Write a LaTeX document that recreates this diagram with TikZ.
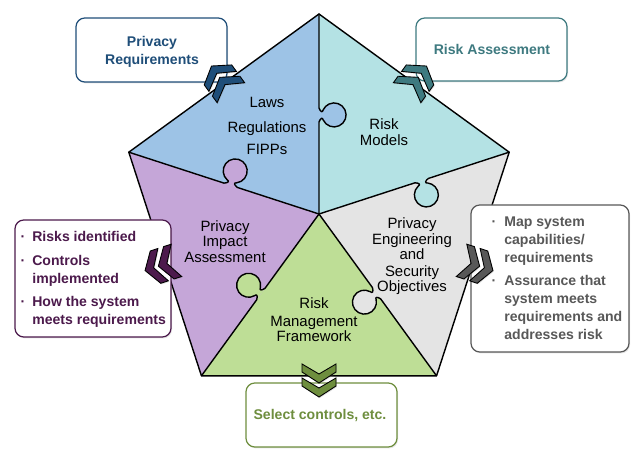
\documentclass[tikz,border=0pt]{standalone}
\usepackage{fontspec}
\setmainfont{Liberation Sans}
\usetikzlibrary{shadows}
\definecolor{pblue}{RGB}{157,195,230}
\definecolor{pteal}{RGB}{180,226,228}
\definecolor{pgrey}{RGB}{228,228,228}
\definecolor{pgreen}{RGB}{190,222,150}
\definecolor{ppurple}{RGB}{197,166,216}
\definecolor{cblue}{RGB}{31,78,121}
\definecolor{cteal}{RGB}{62,122,128}
\definecolor{cgrey}{RGB}{88,88,88}
\definecolor{cpurple}{RGB}{76,26,76}
\definecolor{cgreen}{RGB}{110,142,62}
\tikzset{
	piece/.style={font=\fontsize{8.5}{10}\selectfont,anchor=base,inner sep=0pt},
	boxtext/.style={font=\bfseries\fontsize{8}{10}\selectfont,inner sep=0pt,text=#1},
	infobox/.style={draw=#1,line width=0.7pt,fill=white,rounded corners=5pt,
		drop shadow={opacity=0.2,shadow xshift=0.6pt,shadow yshift=-0.8pt}},
	chev/.style={fill=#1,draw=black,line width=0.5pt,line join=miter,
		drop shadow={opacity=0.25,shadow xshift=0.5pt,shadow yshift=-0.6pt}},
	knob/.style={insert path={.. controls ({#1-3},-1.5) and ({#1-2},-3.5) .. ({#1-5},-4.2)
		arc[start angle=115,end angle=425,radius=12]
		.. controls ({#1+2},-3.5) and ({#1+3},-1.5) .. ({#1+7},0)}}
}
\begin{document}
\begin{tikzpicture}[line join = round, line cap = round,scale=0.02]
	\useasboundingbox (-319,-236) rectangle (318,214);
	\coordinate (O) at (0,0);
	%pieces
	\foreach \a/\col in {90/pblue,18/pteal,306/pgrey,234/pgreen,162/ppurple}
	\fill[\col] (O)--(\a:200)--({\a+72}:200)--cycle;
	%knobs and cuts
	\foreach \a/\d/\col in {90/99/pblue,162/93/ppurple,18/108/pteal,306/98/pgrey,234/99/pgreen}
	{
		\begin{scope}[rotate=\a]
			\fill[\col] ({\d-7},0) [knob=\d] -- cycle;
			\draw[line width=0.8pt] (0,0)--({\d-7},0) [knob=\d] --(200,0);
		\end{scope}
	}
	\draw[line width=0.8pt] (90:200)--(162:200)--(234:200)--(306:200)--(18:200)--cycle;
	%texts in the pieces
	\foreach \x/\y/\t [count=\i] in {-52/106/Laws,-52/81/Regulations,-52/59/FIPPs,
		65/84/Risk,65/68/Models,
		-94/-18/Privacy,-94/-33/Impact,-94/-49/Assessment,
		93/-15/Privacy,93/-31/Engineering,93/-46/and,93/-63/Security,93/-78/Objectives,
		-5/-95/Risk,-5/-113/Management,-5/-128/Framework}
	\node[piece] (p\i) at (\x,\y) {\t};
	%boxes
	\draw[infobox=cblue] (-243,196) rectangle (-92,132);
	\node[boxtext=cblue,anchor=base] (req1) at (-167,167) {Privacy};
	\node[boxtext=cblue,anchor=base] (req2) at (-167,149) {Requirements};
	\draw[infobox=cteal] (97,196) rectangle (248,133);
	\node[boxtext=cteal,anchor=base] (ra) at (173,159) {Risk Assessment};
	\draw[infobox=cpurple] (-304,-6) rectangle (-148,-123);
	\foreach \y/\t [count=\i] in {-28/Risks identified,-52/Controls,-70/implemented,-93/How the system,-111/meets requirements}
	\node[boxtext=cpurple,anchor=base west] (pia\i) at (-287,\y) {\t};
	\foreach \y in {-28,-52,-93}
	\node[boxtext=cpurple,anchor=base] at (-296,\y) {·};
	\draw[infobox=cgrey] (152,9) rectangle (310,-138);
	\foreach \y/\t [count=\i] in {-13/Map system,-31/{capabilities/},-49/requirements,-72/Assurance that,-90/system meets,-108/requirements and,-126/addresses risk}
	\node[boxtext=cgrey,anchor=base west] (eng\i) at (185,\y) {\t};
	\foreach \y in {-13,-72}
	\node[boxtext=cgrey,anchor=base] at (175,\y) {·};
	\draw[infobox=cgreen] (-73,-169) rectangle (78,-233);
	\node[boxtext=cgreen,anchor=base] (sel) at (1,-206) {Select controls, etc.};
	%chevrons
	\foreach \a/\col in {126/cblue,54/cteal,-18/cgrey,270/cgreen,198/cpurple}
	\foreach \t in {169,183}
	\draw[chev=\col,rotate=\a] (\t,0)--({\t-11},17)--({\t-19},17)--({\t-9},0)--({\t-19},-17)--({\t-11},-17)--cycle;
\end{tikzpicture}
\end{document}
